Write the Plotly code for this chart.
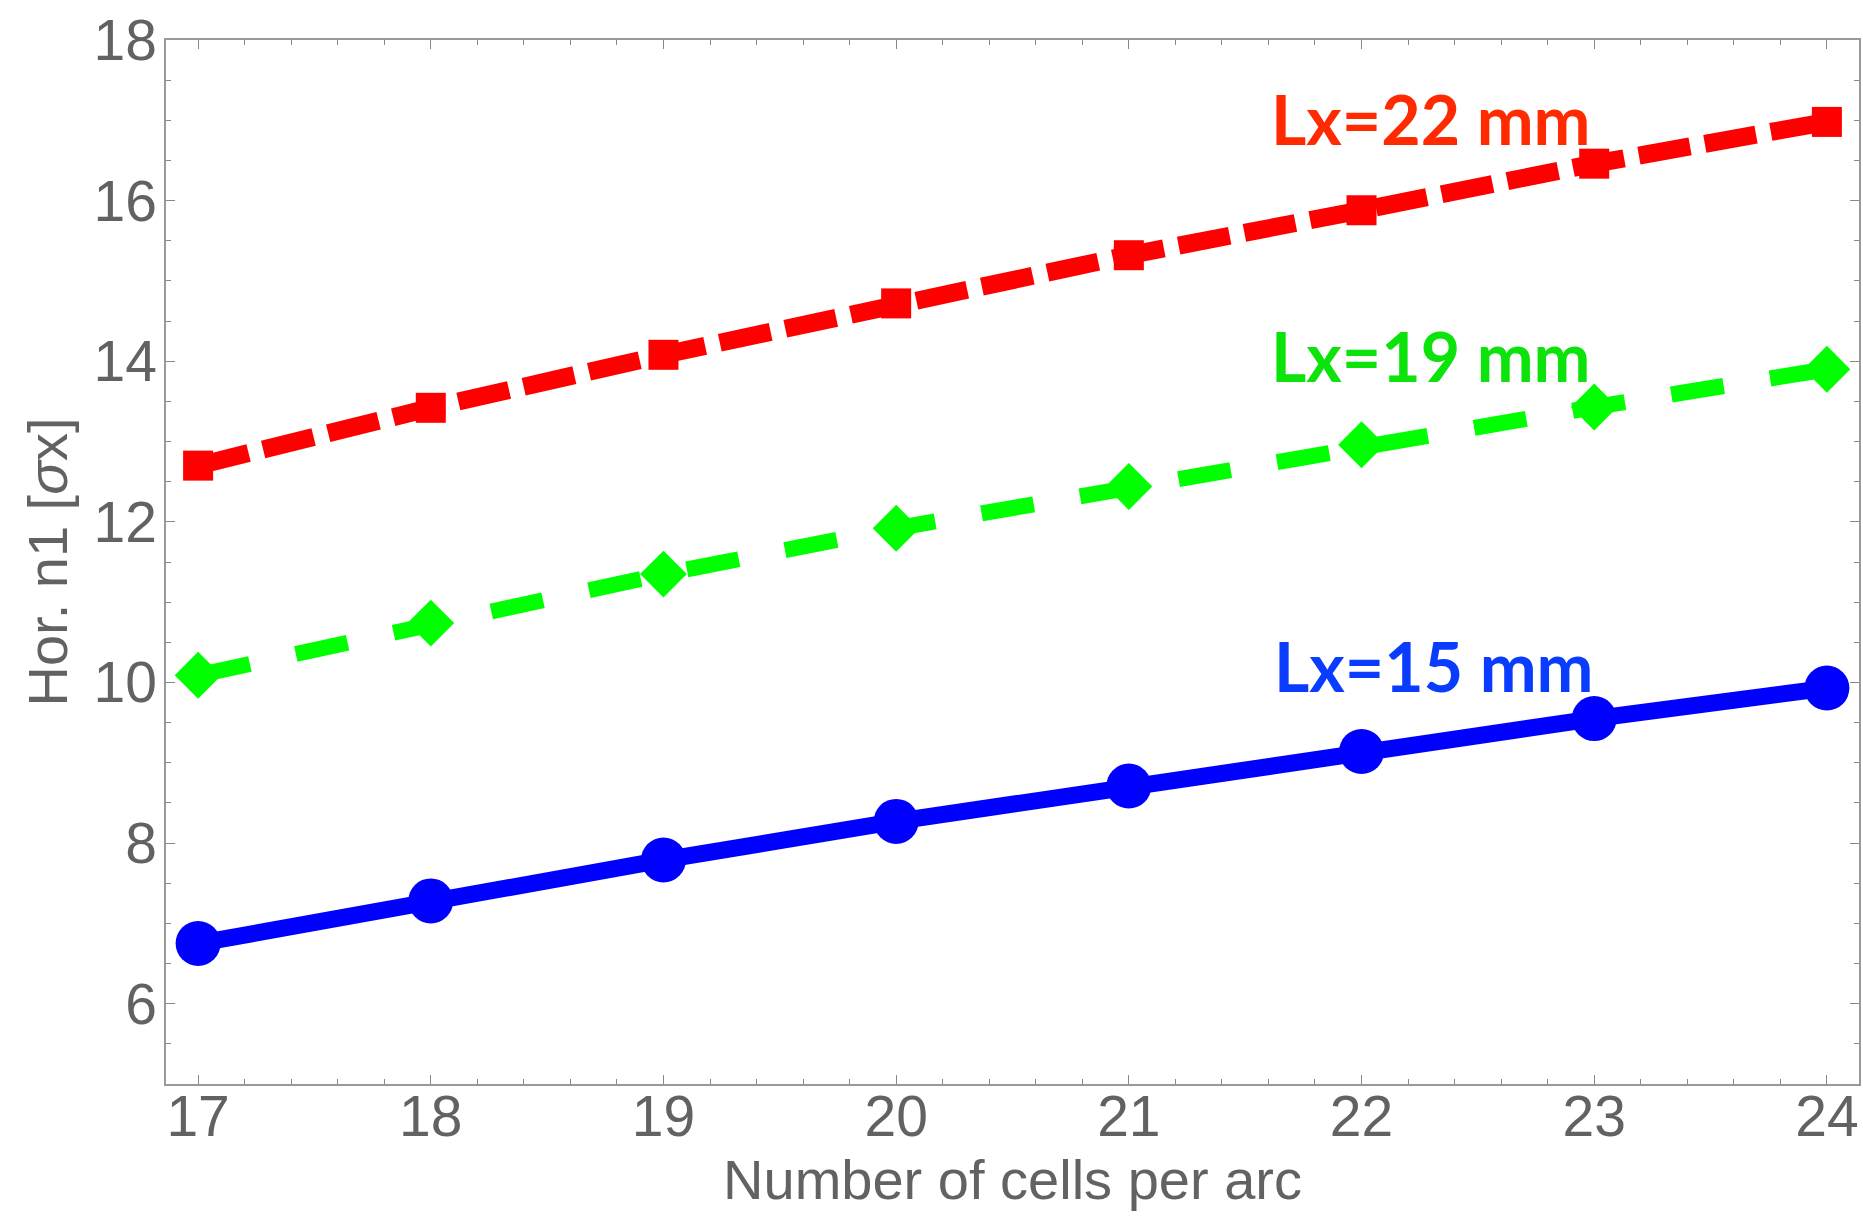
import plotly.graph_objects as go

cells = [17, 18, 19, 20, 21, 22, 23, 24]
n1_lx15 = [6.75, 7.28, 7.79, 8.27, 8.71, 9.14, 9.55, 9.93]
n1_lx19 = [10.09, 10.74, 11.35, 11.92, 12.44, 12.96, 13.43, 13.90]
n1_lx22 = [12.70, 13.42, 14.08, 14.72, 15.32, 15.88, 16.46, 16.98]

labels = ["Lx=22 mm", "Lx=19 mm", "Lx=15 mm"]
label_x = [22.30, 22.30, 22.31]
label_y = [17.02, 14.07, 10.21]
label_colors = ["#FF2A00", "#0BE30B", "#0A3CFF"]

fig = go.Figure()

fig.add_trace(go.Scatter(
    x=cells, y=n1_lx22, mode="lines+markers",
    line=dict(color="#FF0000", width=18, dash="52px,15px"),
    marker=dict(symbol="square", size=30, color="#FF0000"),
    showlegend=False))
fig.add_trace(go.Scatter(
    x=cells, y=n1_lx19, mode="lines+markers",
    line=dict(color="#00FF00", width=16, dash="53px,47px"),
    marker=dict(symbol="diamond", size=36, color="#00FF00"),
    showlegend=False))
fig.add_trace(go.Scatter(
    x=cells, y=n1_lx15, mode="lines+markers",
    line=dict(color="#0000FF", width=17),
    marker=dict(symbol="circle", size=45, color="#0000FF"),
    showlegend=False))

for t, xx, yy, c in zip(labels, label_x, label_y, label_colors):
    fig.add_annotation(x=xx, y=yy, text="<b>" + t + "</b>", showarrow=False,
                       xanchor="center", yanchor="middle",
                       font=dict(family="Lato", size=68, color=c))

axis_common = dict(
    showgrid=False, zeroline=False, automargin=False,
    showline=True, linecolor="#999999", linewidth=1.5, mirror="ticks",
    ticks="inside", ticklen=9, tickwidth=1.3, tickcolor="#888888",
    tickfont=dict(family="Liberation Sans", size=57, color="#626262"),
)

fig.update_xaxes(
    range=[16.862, 24.138], tickmode="array", tickvals=cells,
    ticktext=[str(c) for c in cells], ticklabelstandoff=-18,
    minor=dict(dtick=0.2, ticks="inside", ticklen=5, tickcolor="#888888", tickwidth=1.2),
    title=dict(text="Number of cells per arc",
               font=dict(family="Liberation Sans", size=56, color="#626262"),
               standoff=10),
    **axis_common)
fig.update_yaxes(
    range=[5, 18], tickmode="array", tickvals=[6, 8, 10, 12, 14, 16, 18],
    ticklabelstandoff=-4,
    minor=dict(dtick=0.5, ticks="inside", ticklen=5, tickcolor="#888888", tickwidth=1.2),
    title=dict(text="Hor. n1 [<i>σ</i>x]",
               font=dict(family="Liberation Sans", size=56, color="#626262"),
               standoff=8),
    **axis_common)

fig.update_layout(
    width=1863, height=1217,
    margin=dict(l=166, r=4, t=40, b=133),
    plot_bgcolor="white", paper_bgcolor="white",
)

fig.write_html("out.html", config={"displayModeBar": False},
               post_script="document.body.style.margin='0';document.body.style.overflow='hidden';")
